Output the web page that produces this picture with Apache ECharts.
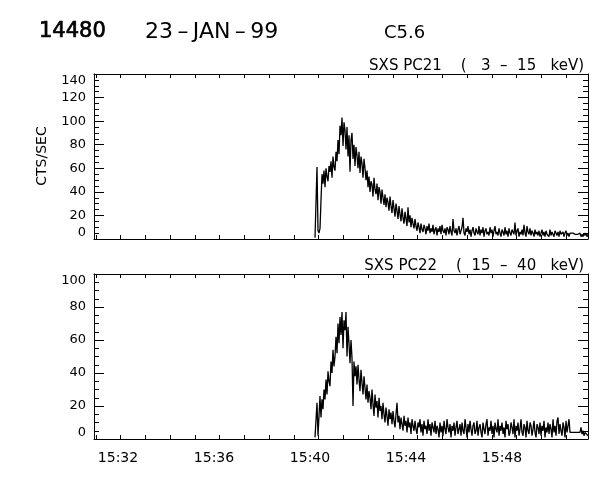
<!DOCTYPE html>
<html>
<head>
<meta charset="utf-8">
<script src="https://cdn.jsdelivr.net/npm/echarts@6/dist/echarts.min.js"></script>
<style>html,body{margin:0;padding:0;background:#fff}#c{width:600px;height:480px}</style>
</head>
<body>
<div id="c"></div>
<script>
// time in minutes after 15:00
const xLabelValues = [32, 36, 40, 44, 48];
const xLabelTexts = ['15:32', '15:36', '15:40', '15:44', '15:48'];
const xTickValues = [31.075, 32.106, 33.138, 34.169, 35.2, 36.231, 37.263, 38.294, 39.325, 40.356,
  41.388, 42.419, 43.45, 44.481, 45.513, 46.544, 47.575, 48.606, 49.638, 50.669];
const xMin = 31, xMax = 51.583;
const startTime = 40.2083;  // first sample (minutes after 15:00)
const cadence = 0.041667;   // minutes between samples (2.5 s)

const pc21 = [1, 1, 61, 7, 5, 9, 33, 55,
  47, 58, 44, 60, 53, 49, 62, 57, 66, 52, 70, 61, 58, 74, 66, 84,
  72, 96, 88, 103, 79, 99, 92, 76, 95, 70, 88, 57, 84, 90,
  68, 80, 62, 78, 71, 60, 74, 56, 70, 64, 52, 68, 60, 50,
  58, 44, 53, 40, 49, 46, 36, 52, 42, 38, 47, 33, 44, 40, 30, 42, 35, 29,
  38, 27, 35, 31, 24, 36, 28, 22, 33, 26, 19, 30, 24, 17, 28, 21,
  15, 26, 18, 13, 23, 17, 11, 27, 14, 20, 10, 18, 13, 9, 17, 11,
  7, 14, 10, 5, 13, 8, 6, 12, 9, 4, 11, 7, 13, 5, 9, 6, 12, 4, 8, 10, 3, 9, 6, 11,
  4, 12, 7, 5, 9, 3, 10, 8, 4, 11, 6, 3, 17, 7, 5, 9, 3, 8, 11, 4,
  7, 10, 18, 5, 3, 9, 6, 11, 4, 8, 2, 7, 10, 5, 3, 9, 6, 4, 11, 3,
  8, 5, 10, 2, 7, 9, 4, 6, 3, 10, 5, 8, 2, 7, 11, 4, 6, 3, 9, 5,
  2, 8, 6, 3, 10, 4, 7, 2, 9, 5, 3, 8, 6, 4, 14, 3, 7, 9, 2, 6,
  4, 8, 3, 12, 5, 2, 11, 6, 4, 9, 3, 7, 5, 2, 8, 4, 6, 3, 7, 2,
  5, 8, 3, 6, 2, 7, 4, 5, 2, 8, 3, 6, 4, 2, 7, 5, 3, 6, 2, 7,
  4, 3, 6, 2, 5, 7, 3, 5, 2,
  5, 5, 5, 5, 5, 4, 4, 4, 4, 4, 5, 2, 4, 2, 5, 3, 5, 2, 4];
const pc22 = [1, 1, 22, 2, 1, 26, 13, 24,
  18, 30, 24, 36, 27, 41, 35, 32, 47, 40, 54, 44, 50, 62, 52, 70,
  58, 74, 63, 77, 55, 72, 66, 77, 50, 68, 58, 46, 60, 49,
  20, 47, 38, 44, 33, 45, 36, 29, 42, 34, 27, 38, 31, 24,
  33, 22, 29, 25, 18, 30, 21, 14, 27, 19, 23, 13, 25, 17, 20, 12, 22, 15,
  10, 19, 14, 8, 18, 12, 16, 9, 17, 11, 7, 15, 22, 10, 14, 6,
  13, 9, 5, 14, 8, 11, 4, 13, 7, 10, 3, 12, 8, 5, 11, 6,
  3, 10, 7, 12, 4, 9, 2, 11, 6, 8, 3, 12, 5, 9, 2, 10, 7, 4, 11, 3, 8, 6, 1, 10,
  4, 8, 2, 11, 6, 3, 12, 7, 4, 9, 1, 8, 5, 10, 2, 7, 11, 3, 6, 9,
  2, 10, 5, 3, 12, 7, 1, 9, 4, 11, 6, 2, 8, 10, 3, 5, 11, 2, 7, 9,
  4, 1, 10, 6, 3, 9, 12, 2, 7, 5, 11, 3, 8, 1, 10, 6, 4, 12, 2, 8,
  5, 10, 3, 7, 1, 11, 6, 9, 2, 4, 10, 7, 3, 12, 1, 8, 5, 10, 2, 6,
  12, 4, 2, 9, 7, 1, 11, 5, 3, 10, 8, 2, 6, 11, 4, 1, 9, 7, 3, 10,
  2, 8, 5, 11, 1, 7, 4, 10, 3, 9, 6, 1, 12, 4, 8, 2, 11, 13, 3, 9,
  5, 2, 10, 7, 1, 11, 4, 8, 12,
  4, 4, 4, 4, 4, 4, 4, 4, 4, 4, 4, 7, 3, 5, 2, 4, 3, 5, 2];

const y1Max = 140, y2Max = 100, yStep = 20;

const FONT = 'DejaVu Sans';
function pairs(arr) { return arr.map((v, i) => [startTime + i * cadence, v]); }
function fmtTime(v) { const i = xLabelValues.indexOf(Math.round(v)); return i >= 0 ? xLabelTexts[i] : ''; }

function xAx(grid, pos, labels) {
  return {
    type: 'value', gridIndex: grid, position: pos, min: xMin, max: xMax,
    axisLine: { show: true, onZero: false, lineStyle: { color: '#000', width: 1 } },
    axisTick: { show: true, inside: true, length: 4, customValues: xTickValues, lineStyle: { color: '#000' } },
    axisLabel: { show: labels, customValues: xLabelValues, formatter: fmtTime, margin: 12,
      fontFamily: FONT, fontSize: 14, color: '#000' },
    splitLine: { show: false }
  };
}
function yAx(grid, pos, max, labels) {
  return {
    type: 'value', gridIndex: grid, position: pos, min: 0, max: max, interval: yStep,
    axisLine: { show: true, onZero: false, lineStyle: { color: '#000', width: 1 } },
    axisTick: { show: true, inside: true, length: 10, lineStyle: { color: '#000' } },
    minorTick: { show: true, splitNumber: 4, length: 5, lineStyle: { color: '#000' } },
    axisLabel: { show: labels, margin: 8, fontFamily: FONT, fontSize: 13, color: '#000',
      verticalAlignMinLabel: 'bottom', verticalAlignMaxLabel: 'top' },
    splitLine: { show: false }, minorSplitLine: { show: false }
  };
}

const chart = echarts.init(document.getElementById('c'), null, { renderer: 'canvas' });
chart.setOption({
  animation: false,
  backgroundColor: '#fff',
  grid: [
    { left: 94, top: 74, width: 494, height: 165 },
    { left: 94, top: 274, width: 494, height: 165 }
  ],
  xAxis: [xAx(0, 'bottom', false), xAx(0, 'top', false), xAx(1, 'bottom', true), xAx(1, 'top', false)],
  yAxis: [yAx(0, 'left', y1Max, true), yAx(0, 'right', y1Max, false), yAx(1, 'left', y2Max, true), yAx(1, 'right', y2Max, false)],
  series: [
    { type: 'line', xAxisIndex: 0, yAxisIndex: 0, data: pairs(pc21), showSymbol: false, symbol: 'none',
      lineStyle: { color: '#000', width: 1.3 } },
    { type: 'line', xAxisIndex: 2, yAxisIndex: 2, data: pairs(pc22), showSymbol: false, symbol: 'none',
      lineStyle: { color: '#000', width: 1.3 } }
  ],
  graphic: [
    { type: 'text', x: 39, y: 32, style: { text: '14480', font: '21px "DejaVu Sans"', fill: '#000', stroke: '#000', lineWidth: 0.7, verticalAlign: 'middle' } },
    { type: 'text', x: 145, y: 32, style: { text: '23\u2009\u2013\u2009JAN\u2009\u2013\u200999', font: '22px "DejaVu Sans"', fill: '#000', verticalAlign: 'middle' } },
    { type: 'text', x: 384, y: 33, style: { text: 'C5.6', font: '18px "DejaVu Sans"', fill: '#000', verticalAlign: 'middle' } },
    { type: 'text', x: 584, y: 66, style: { text: 'SXS PC21    (   3  \u2013  15   keV)', font: '15px "DejaVu Sans"', fill: '#000', align: 'right', verticalAlign: 'middle' } },
    { type: 'text', x: 584, y: 266, style: { text: 'SXS PC22    (  15  \u2013  40   keV)', font: '15px "DejaVu Sans"', fill: '#000', align: 'right', verticalAlign: 'middle' } },
    { type: 'text', x: 42, y: 156, rotation: Math.PI / 2, style: { text: 'CTS/SEC', font: '14px "DejaVu Sans"', fill: '#000', align: 'center', verticalAlign: 'middle' } }
  ]
});
</script>
</body>
</html>
